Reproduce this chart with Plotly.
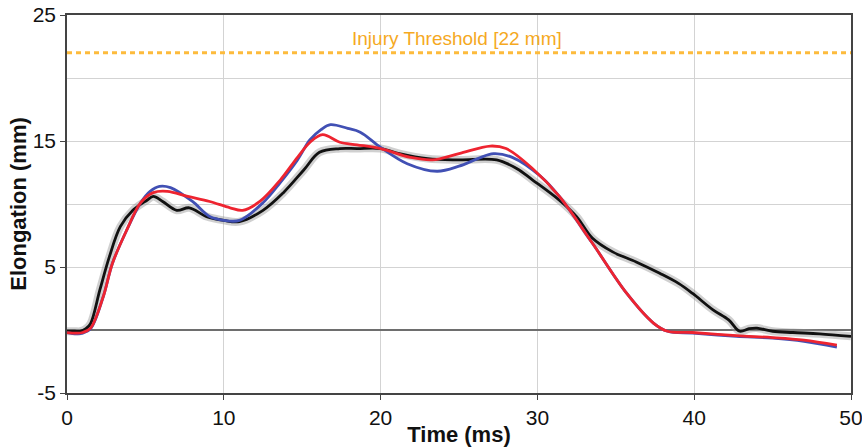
import plotly.graph_objects as go

# ---- data ----
black_t = [0, 0.5, 0.83, 1.2, 1.5, 2.1, 2.7, 3.4, 4.2, 5.1, 5.5, 6.1, 7.0, 7.8, 8.9, 10.0, 11.0,
           12.5, 13.8, 15.1, 16.1, 17.4, 18.5, 20.0, 21.2, 23.0, 25.0, 27.4, 28.7, 29.7, 31.4,
           32.5, 33.5, 34.8, 36.3, 37.8, 39.0, 39.9, 41.2, 42.2, 42.9, 43.5, 44.0, 45.0, 46.3,
           48.0, 50.0]
black_v = [-0.1, -0.1, -0.1, 0.1, 0.5, 3.2, 5.8, 8.2, 9.5, 10.3, 10.6, 10.2, 9.5, 9.7, 9.0, 8.7, 8.6,
           9.5, 10.9, 12.7, 14.1, 14.4, 14.4, 14.4, 14.0, 13.6, 13.5, 13.5, 12.8, 11.9, 10.3,
           9.0, 7.3, 6.2, 5.4, 4.5, 3.7, 2.9, 1.6, 0.8, -0.1, 0.1, 0.15, -0.1, -0.2,
           -0.3, -0.5]

blue_t = [0, 0.6, 1.0, 1.5, 2.3, 2.9, 3.8, 4.7, 5.3, 5.9, 6.6, 8.0, 9.1, 10.0, 11.0, 12.5, 13.6,
          14.7, 15.5, 16.2, 16.8, 17.9, 18.7, 20.0, 21.7, 23.6, 25.0, 26.2, 27.2, 28.4, 30.2,
          31.4, 33.5, 35.7, 37.4, 38.3, 39.9, 42.7, 45.0, 47.0, 49.1]
blue_v = [-0.2, -0.3, -0.25, 0.1, 2.6, 5.3, 7.9, 10.1, 11.0, 11.4, 11.3, 10.2, 9.0, 8.7, 8.7, 10.1, 11.7,
          13.5, 15.1, 15.9, 16.3, 16.0, 15.7, 14.5, 13.2, 12.6, 13.0, 13.6, 14.0, 13.7, 12.2,
          10.6, 6.9, 2.9, 0.55, -0.1, -0.25, -0.5, -0.65, -0.9, -1.35]

red_t = [0, 0.6, 1.0, 1.5, 2.3, 2.9, 3.8, 4.7, 5.5, 6.4, 7.7, 9.1, 10.4, 11.2, 12.3, 13.6, 14.7,
         15.5, 16.3, 17.4, 18.5, 20.0, 21.9, 23.3, 25.0, 27.0, 28.0, 29.7, 31.4, 33.5, 35.7,
         37.4, 38.3, 39.9, 42.7, 45.0, 47.0, 49.1]
red_v = [-0.2, -0.25, -0.2, 0.15, 2.6, 5.3, 7.9, 10.1, 10.9, 11.0, 10.6, 10.2, 9.7, 9.5, 10.2, 11.9, 13.7,
         14.9, 15.5, 14.9, 14.7, 14.4, 13.7, 13.5, 14.0, 14.6, 14.4, 12.8, 10.6, 6.9, 2.9,
         0.55, -0.1, -0.2, -0.45, -0.6, -0.8, -1.2]

threshold_value = 22
threshold_label = "Injury Threshold [22 mm]"
x_ticks = [0, 10, 20, 30, 40, 50]
y_ticks = [-5, 5, 15, 25]

FONT = "Liberation Sans, Arial, sans-serif"

fig = go.Figure()

# threshold line
fig.add_trace(go.Scatter(x=[0, 50], y=[threshold_value, threshold_value], mode="lines",
                         line=dict(color="#FDBB3C", width=3, dash="5px,4px"),
                         hoverinfo="skip", showlegend=False))

# gray band behind black curve
fig.add_trace(go.Scatter(x=black_t, y=black_v, mode="lines", line_shape="spline",
                         line=dict(color="rgba(150,150,150,0.45)", width=8),
                         showlegend=False))
fig.add_trace(go.Scatter(x=black_t, y=black_v, mode="lines", line_shape="spline",
                         line=dict(color="#111111", width=2.8), showlegend=False))
fig.add_trace(go.Scatter(x=blue_t, y=blue_v, mode="lines", line_shape="spline",
                         line=dict(color="#4150B4", width=2.8), showlegend=False))
fig.add_trace(go.Scatter(x=red_t, y=red_v, mode="lines", line_shape="spline",
                         line=dict(color="#EE2430", width=2.8), showlegend=False))

fig.add_annotation(x=24.9, y=23.15, text=threshold_label, showarrow=False,
                   font=dict(family=FONT, size=19, color="#F5A91F"),
                   xanchor="center", yanchor="middle")

fig.update_layout(
    width=862, height=447,
    margin=dict(l=67, r=11, t=15, b=54),
    paper_bgcolor="white", plot_bgcolor="white",
    font=dict(family=FONT, size=21, color="#111111"),
)

fig.update_xaxes(
    range=[0, 50], tickvals=x_ticks, ticktext=[str(v) for v in x_ticks],
    automargin=False, ticklabeloverflow="allow",
    showgrid=True, gridcolor="#D3D3D3", gridwidth=1,
    showline=True, linecolor="#444444", linewidth=1.5, mirror=True,
    ticks="outside", ticklen=5, tickcolor="#444444", tickwidth=1,
    zeroline=False,
    title=dict(text="<b>Time (ms)</b>", font=dict(family=FONT, size=22), standoff=0),
    tickfont=dict(family=FONT, size=21),
)
fig.update_yaxes(
    range=[-5, 25], tickvals=y_ticks, ticktext=[str(v) for v in y_ticks],
    automargin=False, ticklabeloverflow="allow",
    showgrid=True, gridcolor="#D3D3D3", gridwidth=1,
    minor=dict(tickvals=[0, 10, 20], showgrid=True, gridcolor="#D3D3D3", gridwidth=1, ticks=""),
    showline=True, linecolor="#444444", linewidth=1.5, mirror=True,
    ticks="outside", ticklen=5, tickcolor="#444444", tickwidth=1,
    zeroline=True, zerolinecolor="#6E6E6E", zerolinewidth=1.5,
    title=dict(text="<b>Elongation (mm)</b>", font=dict(family=FONT, size=22), standoff=0),
    tickfont=dict(family=FONT, size=21),
)

# remove the default 8px page margin so the 862x447 figure fills the window exactly
fig.write_html("out.html",
               config={"displayModeBar": False},
               post_script="document.body.style.margin='0';document.body.style.overflow='hidden';")
